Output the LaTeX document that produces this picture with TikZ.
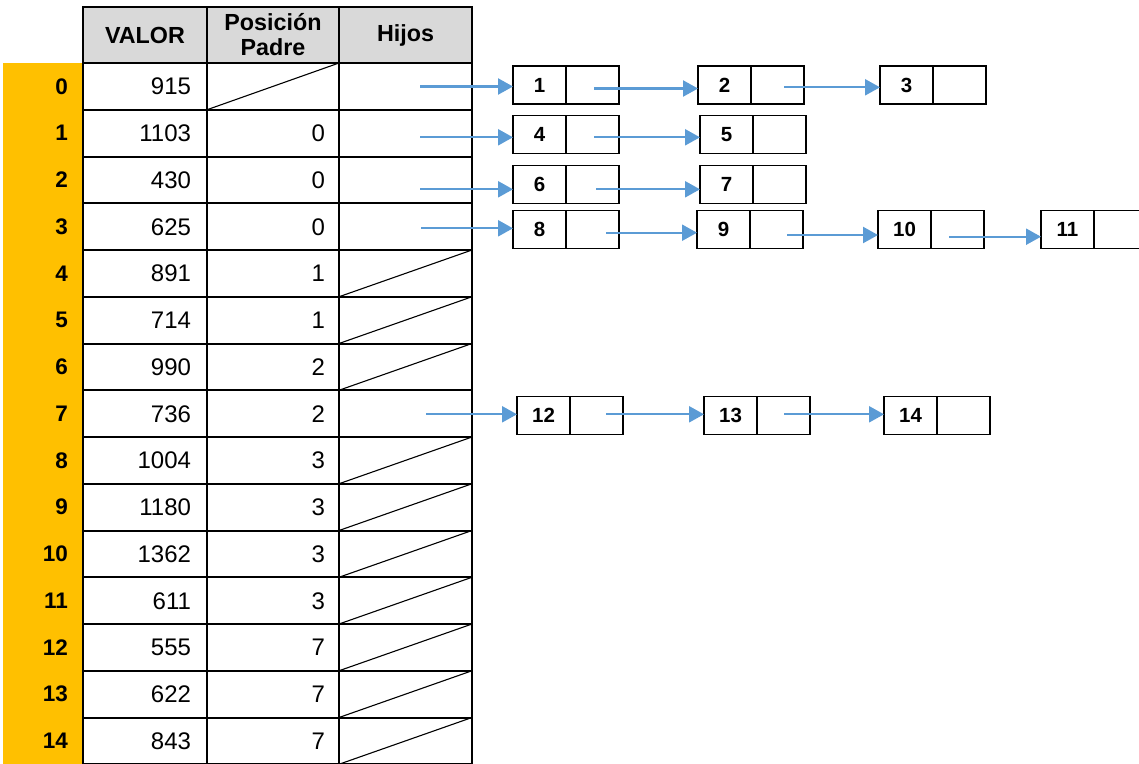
\documentclass[tikz,border=0pt]{standalone}
\usepackage{fontspec}
\setmainfont{Liberation Sans}
\usetikzlibrary{arrows.meta}
\definecolor{idxcol}{HTML}{FFC000}
\definecolor{hdrcol}{HTML}{D9D9D9}
\definecolor{arrcol}{HTML}{5B9BD5}
\tikzset{
  cell/.style={draw, line width=2pt, minimum height=46.75pt, inner ysep=0pt, text depth=0pt, outer sep=0pt},
  valc/.style={cell, inner xsep=16pt, text width=92pt, align=right, font=\fontsize{24}{28}\selectfont},
  padc/.style={cell, inner xsep=14pt, text width=104pt, align=right, font=\fontsize{24}{28}\selectfont},
  hijc/.style={cell, minimum width=133pt, inner xsep=0pt},
  idxc/.style={fill=idxcol, minimum height=46.75pt, inner ysep=0pt, inner xsep=15pt, text width=50pt, align=right, text depth=0pt, outer sep=0pt, font=\bfseries\fontsize{22.5}{26}\selectfont},
  hdrc/.style={draw, fill=hdrcol, line width=2pt, minimum height=56pt, inner sep=0pt, outer sep=0pt, align=center, font=\bfseries\fontsize{23.3}{27}\selectfont},
  slash/.style={line width=1.1pt},
  bcell/.style={draw, line width=1.3pt, minimum width=53pt, minimum height=38pt, inner sep=0pt, outer sep=0pt, font=\bfseries\fontsize{20.5}{24}\selectfont},
  link/.style={draw=arrcol, line width=2.3pt, -{Triangle[length=15pt,width=16pt]}},
}
\begin{document}
\begin{tikzpicture}[x=1pt,y=-1pt]
\useasboundingbox (0,0) rectangle (1139,763);
\clip (0,0) rectangle (1139,763);
% orange index column background
\fill[idxcol] (3,63) rectangle (83,770);
% header
\node[hdrc, minimum width=124pt] (hv) at (145,35) {VALOR};
\node[hdrc, minimum width=132pt] (hp) at (273,35) {Posición\\[-2pt]Padre};
\node[hdrc, minimum width=133pt] (hh) at (405.5,35) {Hijos};
% rows
\foreach \i/\v/\p in {0/915/,1/1103/0,2/430/0,3/625/0,4/891/1,5/714/1,6/990/2,7/736/2,8/1004/3,9/1180/3,10/1362/3,11/611/3,12/555/7,13/622/7,14/843/7}{
  \pgfmathsetmacro{\yc}{86.375+46.75*\i}
  \node[idxc, minimum width=80pt] (i\i) at (43,\yc) {\i};
  \node[valc] (v\i) at (145,\yc) {\v};
  \node[padc] (p\i) at (273,\yc) {\p};
  \node[hijc] (h\i) at (405.5,\yc) {};
}
\draw[slash] (p0.south west) -- (p0.north east);
\foreach \i in {4,5,6,8,9,10,11,12,13,14}{
  \draw[slash] (h\i.south west) -- (h\i.north east);
}
% linked list boxes
\foreach \n/\x/\y in {1/513/85/,2/698/85,3/880/85,4/513/134.7,5/700/134.7,6/513/184.7,7/700/184.7,8/513/229.7,9/697/229.7,10/878/229.7,11/1041/229.7,12/517/415.5,13/704/415.5,14/884/415.5}{
  \node[bcell, anchor=west] (b\n) at (\x,\y) {\n};
  \node[bcell, anchor=west] (r\n) at (b\n.east) {};
}
% arrow start points
\coordinate (a0) at (420,86.5);
\coordinate (a1) at (420,137.3);
\coordinate (a2) at (420,189.3);
\coordinate (a3) at (421,228.3);
\coordinate (a7) at (426,414.3);
\coordinate (c1) at (594,88.5);
\coordinate (c2) at (784,87.3);
\coordinate (c4) at (594,137.3);
\coordinate (c6) at (596,189.3);
\coordinate (c8) at (606,232.7);
\coordinate (c9) at (787,235);
\coordinate (c10) at (949,236.7);
\coordinate (c12) at (606,414.3);
\coordinate (c13) at (784,414.3);
% arrows
\draw[link] (a0) -- (a0 -| b1.west);
\draw[link] (a1) -- (a1 -| b4.west);
\draw[link] (a2) -- (a2 -| b6.west);
\draw[link] (a3) -- (a3 -| b8.west);
\draw[link] (a7) -- (a7 -| b12.west);
\draw[link] (c1) -- (c1 -| b2.west);
\draw[link] (c2) -- (c2 -| b3.west);
\draw[link] (c4) -- (c4 -| b5.west);
\draw[link] (c6) -- (c6 -| b7.west);
\draw[link] (c8) -- (c8 -| b9.west);
\draw[link] (c9) -- (c9 -| b10.west);
\draw[link] (c10) -- (c10 -| b11.west);
\draw[link] (c12) -- (c12 -| b13.west);
\draw[link] (c13) -- (c13 -| b14.west);
\end{tikzpicture}
\end{document}
